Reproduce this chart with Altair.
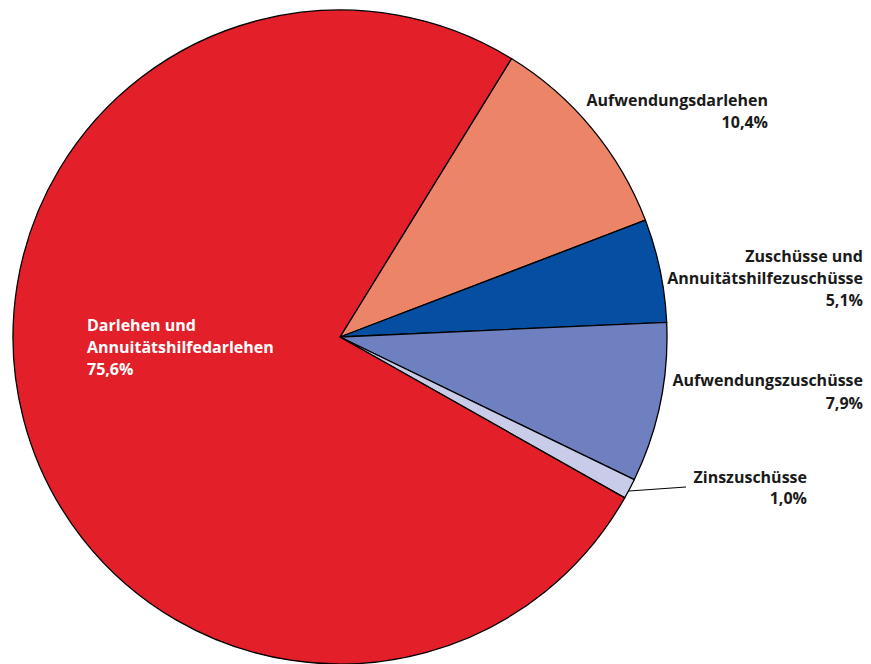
import altair as alt
import pandas as pd
import math

categories = ["Aufwendungsdarlehen", "Zuschüsse und Annuitätshilfezuschüsse",
              "Aufwendungszuschüsse", "Zinszuschüsse",
              "Darlehen und Annuitätshilfedarlehen"]
values = [10.4, 5.1, 7.9, 1.0, 75.6]
colors = ["#EC8468", "#054EA2", "#6F80C0", "#C9CCE9", "#E3202A"]
label_lines = [
    ["Aufwendungsdarlehen", "10,4%"],
    ["Zuschüsse und", "Annuitätshilfezuschüsse", "5,1%"],
    ["Aufwendungszuschüsse", "7,9%"],
    ["Zinszuschüsse", "1,0%"],
    ["Darlehen und", "Annuitätshilfedarlehen", "75,6%"],
]

df = pd.DataFrame({"cat": categories, "value": values, "idx": list(range(len(values)))})

start = 0.552
W, H = 855, 656
cx, cy, R = 332, 329, 327

pie = alt.Chart(df).mark_arc(stroke="black", strokeWidth=1.3, radius=R).encode(
    theta=alt.Theta("value:Q", stack=True,
                    scale=alt.Scale(range=[start, start + 2 * math.pi])),
    order=alt.Order("idx:Q"),
    color=alt.Color("cat:N", scale=alt.Scale(domain=categories, range=colors), legend=None),
    x=alt.value(cx), y=alt.value(cy),
)

font = "Open Sans"

def label(lines, x, y, align, color="#1a1a1a", lh=22):
    return alt.Chart(pd.DataFrame({"t": [lines]})).mark_text(
        align=align, baseline="alphabetic", font=font, fontSize=16, fontWeight="bold",
        color=color, lineHeight=lh,
    ).encode(text="t", x=alt.value(x), y=alt.value(y))

labels = [
    label(label_lines[0], 760, 98, "right", lh=22),
    label(label_lines[1], 855, 254, "right", lh=22),
    label(label_lines[2], 855, 378, "right", lh=23),
    label(label_lines[3], 799, 475, "right", lh=21),
    label(label_lines[4], 79, 323, "left", color="white", lh=22),
]

leader = alt.Chart(pd.DataFrame({"a": [0]})).mark_rule(color="black", strokeWidth=1).encode(
    x=alt.value(621), x2=alt.value(678), y=alt.value(483), y2=alt.value(479)
)

chart = alt.layer(pie, leader, *labels).properties(
    width=W, height=H, padding=0, autosize="none"
).configure_view(stroke=None)

chart.save("out.html", embed_options={"renderer": "svg", "actions": False})
